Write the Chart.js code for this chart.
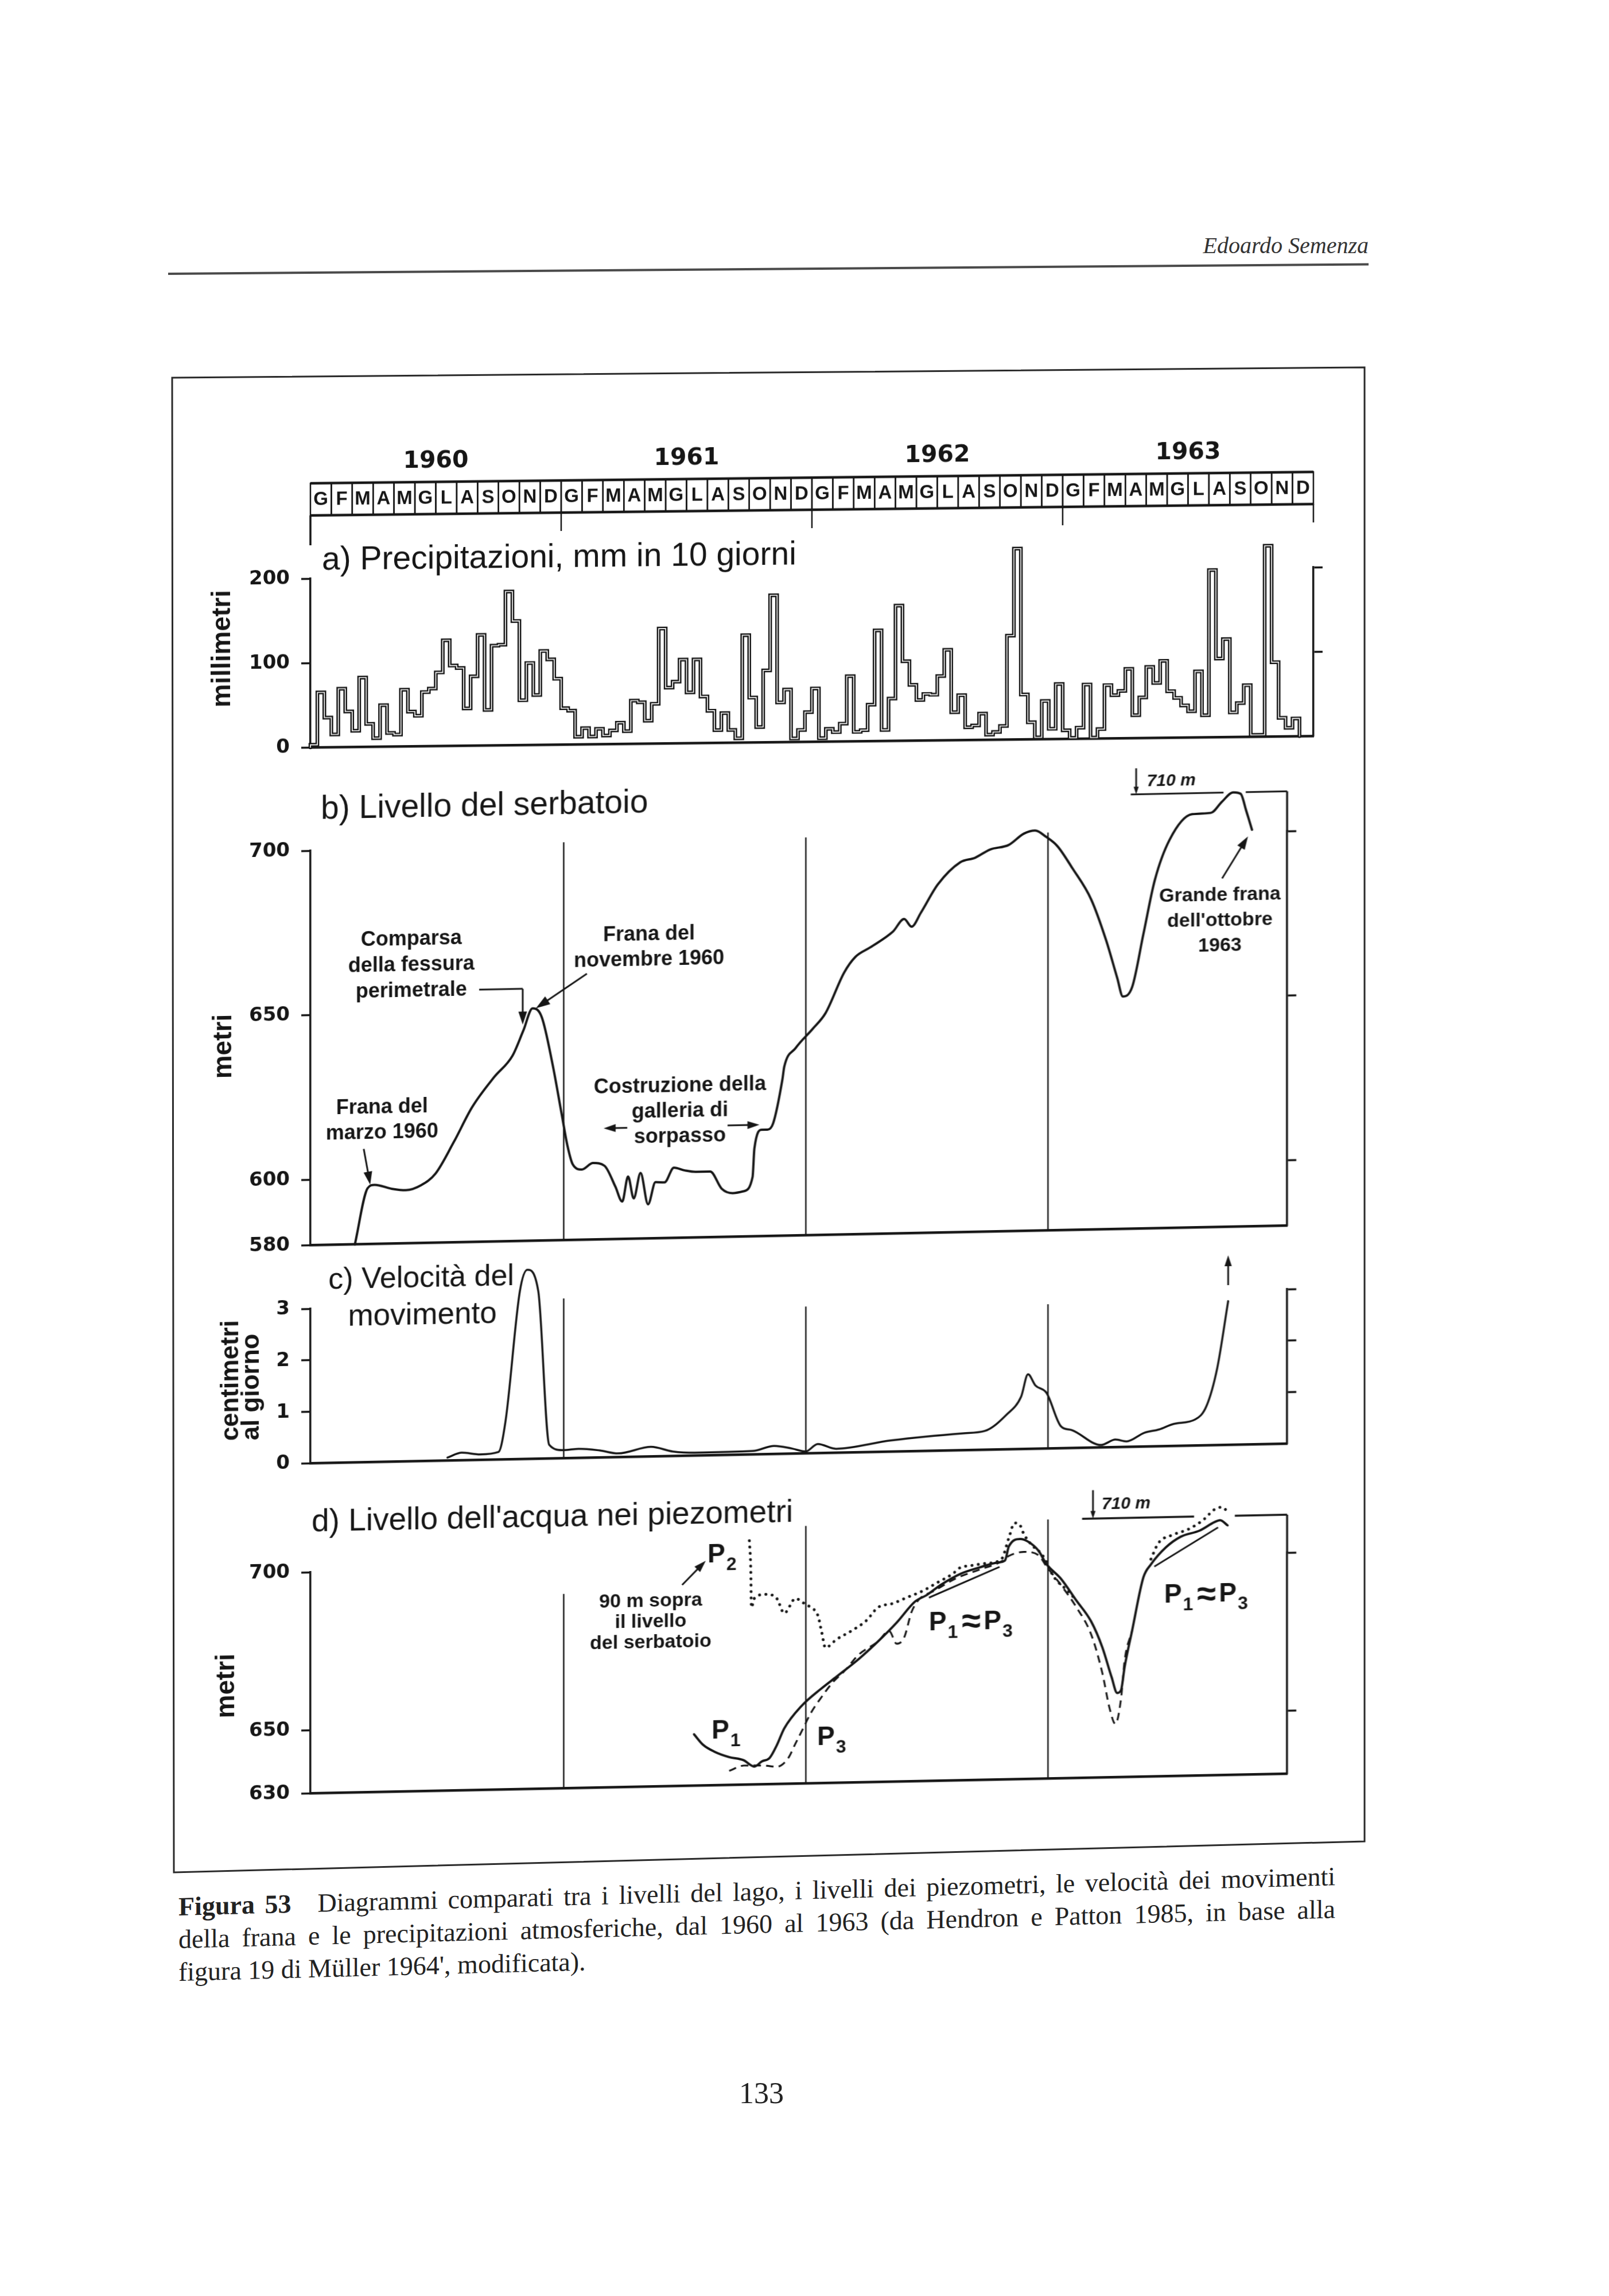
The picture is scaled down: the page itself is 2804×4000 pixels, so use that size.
<!DOCTYPE html>
<html lang="it">
<head>
<meta charset="utf-8">
<title>Figura 53 - Vajont 1960-1963</title>
<script src="https://cdn.jsdelivr.net/npm/chart.js@4.4.1/dist/chart.umd.min.js"></script>
<style>
  html, body { margin: 0; padding: 0; background: #fff; }
  #page { position: relative; width: 2804px; height: 4000px; overflow: hidden; background: #fff; }
  .layer { position: absolute; left: 0; width: 2804px; transform-origin: 541px 0; }
  .layer canvas { display: block; }
  #runhead { position: absolute; right: 419px; top: 404px; font: italic 40px "Liberation Serif", serif; color: #333; }
  #rule { position: absolute; left: 293px; top: 475px; width: 2092px; height: 4px; background: #4a4a4a; transform: skewY(-0.45deg); transform-origin: 0 0; }
  #frame { position: absolute; left: 0; top: 0; }
  #caption { position: absolute; left: 311px; top: 3293px; width: 2016px; font: 46px/57px "Liberation Serif", serif; color: #222; transform: skewY(-1.5deg); transform-origin: 0 0; }
  #caption .cl { white-space: nowrap; }
  #caption .full { text-align: justify; text-align-last: justify; }
  #folio { position: absolute; left: 1277px; top: 3617px; width: 100px; text-align: center; font: 52px "Liberation Serif", serif; color: #222; }
</style>
</head>
<body>
<div id="page">
  <div id="runhead">Edoardo Semenza</div>
  <div id="rule"></div>
  <svg id="frame" width="2804" height="4000">
    <polygon points="300,658 2378,640 2378,3208 303,3262" fill="none" stroke="#2a2a2a" stroke-width="3"/>
  </svg>
  <div class="layer" style="top:740px;transform:skewY(-0.65deg)"><canvas id="rain" width="2804" height="620"></canvas></div>
  <div class="layer" style="top:1360px;transform:skewY(-1.15deg)"><canvas id="lake" width="2804" height="850"></canvas></div>
  <div class="layer" style="top:2170px;transform:skewY(-1.15deg)"><canvas id="speed" width="2804" height="420"></canvas></div>
  <div class="layer" style="top:2580px;transform:skewY(-1.15deg)"><canvas id="piezo" width="2804" height="600"></canvas></div>
  <div id="caption">
    <div class="cl full"><b>Figura 53</b>&ensp;&ensp;Diagrammi comparati tra i livelli del lago, i livelli dei piezometri, le velocità dei movimenti</div>
    <div class="cl full">della frana e le precipitazioni atmosferiche, dal 1960 al 1963 (da Hendron e Patton 1985, in base alla</div>
    <div class="cl">figura 19 di Müller 1964', modificata).</div>
  </div>
  <div id="folio">133</div>
</div>

<script>
// time axis: months counted from 1 January 1960
const MONTHS = ['G', 'F', 'M', 'A', 'M', 'G', 'L', 'A', 'S', 'O', 'N', 'D'];
const YEARS = ['1960', '1961', '1962', '1963'];
const YEAR_BREAKS = [12, 24, 36];

// a) rainfall, mm in 10 days, three values per month from Jan 1960
const RAIN_MM = [
  3, 65, 35, 15, 69, 42, 19, 82, 27, 10, 49, 16,
  14, 67, 41, 36, 64, 68, 87, 125, 95, 92, 44, 82,
  131, 42, 118, 119, 182, 147, 53, 97, 59, 111, 101, 78,
  43, 40, 9, 19, 9, 18, 10, 16, 25, 15, 51, 49,
  27, 47, 136, 66, 73, 99, 60, 99, 55, 38, 15, 35,
  15, 5, 127, 53, 18, 85, 174, 47, 62, 4, 14, 35,
  63, 4, 15, 11, 21, 77, 11, 13, 43, 131, 13, 50,
  160, 94, 66, 48, 55, 54, 76, 107, 33, 53, 15, 17,
  31, 6, 9, 16, 123, 226, 53, 20, 2, 45, 12, 65,
  10, 1, 13, 64, 1, 11, 63, 51, 56, 82, 27, 48,
  84, 65, 91, 55, 47, 38, 31, 78, 26, 198, 93, 116,
  29, 40, 61, 2, 2, 226, 88, 22, 10, 21
];
const RAIN_TICKS = [0, 100, 200];

// b) reservoir level, m a.s.l.
const LAKE_T = [1.65, 2.28, 2.62, 3.48, 4.19, 4.93, 5.64, 6.55, 7.46, 8.55,
  9.46, 10.0, 10.46, 10.91, 11.45, 11.91, 12.19, 12.45, 12.9, 13.45,
  14.02, 14.56, 14.9, 15.19, 15.47, 15.81, 16.18, 16.55, 17.0, 17.46,
  18.0, 18.55, 19.26, 19.83, 20.37, 20.91, 21.36, 21.45, 21.82, 22.1,
  22.38, 22.84, 22.93, 23.49, 24.33, 24.97, 25.9, 26.46, 27.2, 28.31,
  28.87, 29.24, 29.7, 30.54, 31.65, 32.39, 33.13, 34.06, 34.8, 35.36,
  35.91, 36.47, 37.21, 38.14, 38.88, 39.43, 39.71, 40.17, 40.73, 41.29,
  42.03, 43.14, 44.07, 44.62, 45.18, 45.55, 45.83, 46.11];
const LAKE_M = [580, 597, 598, 596.7, 596.2, 597.6, 601, 610.5, 621, 630,
  636.4, 644, 650.7, 648, 633.5, 618, 608.6, 603, 601.4, 603.3,
  602.4, 596, 591.4, 599, 592.3, 600, 590.4, 597.1, 597, 601.4,
  600.5, 600, 600, 594.7, 593.3, 593.8, 598.1, 606.7, 612.4, 612.4,
  614.3, 627.6, 631.4, 637.0, 642.7, 647.4, 659.7, 664.4, 667.2, 671.8,
  675.6, 673.2, 677.4, 685.9, 692.5, 693.8, 696.2, 697.5, 700.8, 701.7,
  699.7, 696.8, 690.0, 680.4, 667.9, 656.4, 650.7, 653.5, 669.6, 685.8,
  698.1, 705.7, 706.0, 709.3, 712.1, 711.6, 706.3, 700.6];
const LAKE_TICKS = [580, 600, 650, 700];
const LAKE_TICKS_R = [600, 650, 700];

// c) landslide velocity, cm per day
const SPEED_T = [6.24, 6.95, 7.86, 8.77, 9.12, 9.83, 10.2, 10.74, 11.28, 11.99,
  12.74, 13.79, 14.7, 16.32, 17.41, 18.49, 21.37, 22.42, 23.33, 23.99,
  24.59, 25.5, 28.21, 31.79, 32.88, 33.93, 34.67, 35.01, 35.38, 35.93,
  36.64, 37.18, 38.63, 39.34, 39.89, 40.77, 41.51, 42.22, 43.3, 43.85,
  44.39, 44.93];
const SPEED_CM = [0.06, 0.15, 0.11, 0.15, 0.75, 3.26, 3.67, 3.25, 0.27, 0.16,
  0.18, 0.14, 0.075, 0.19, 0.09, 0.06, 0.07, 0.16, 0.10, 0.04,
  0.18, 0.08, 0.22, 0.33, 0.37, 0.67, 1.02, 1.45, 1.23, 1.08,
  0.43, 0.35, 0.05, 0.15, 0.11, 0.27, 0.33, 0.43, 0.51, 0.76,
  1.5, 2.79];
const SPEED_TICKS = [0, 1, 2, 3];
const SPEED_TICKS_R = [1, 2, 3];

// d) piezometers, m a.s.l.
const P1_T = [18.46, 18.91, 19.46, 20.18, 20.91, 21.45, 21.82, 22.2, 22.56, 22.93,
  23.77, 24.79, 25.53, 26.64, 27.57, 28.5, 29.42, 29.98, 30.72, 31.65,
  32.58, 33.5, 33.87, 34.06, 34.62, 34.99, 35.54, 35.91, 36.65, 37.39,
  38.14, 38.69, 39.15, 39.43, 39.62, 39.8, 40.17, 40.73, 41.1, 41.84,
  42.58, 43.51, 44.25, 44.53, 44.9];
const P1_M = [646.2, 642.8, 640.6, 638.8, 637.7, 635.6, 637.2, 638.2, 642.2, 647.5,
  654.4, 660.0, 663.6, 669.1, 674.4, 680.3, 686.9, 688.8, 692.1, 695.3,
  697.2, 698.7, 699.3, 703.7, 706.0, 705.2, 702.1, 698.0, 693.1, 686.3,
  679.4, 671.2, 661.7, 656.6, 657.5, 664.9, 676.3, 693.1, 697.1, 702.4,
  705.7, 707.5, 710.1, 710.7, 709.0];
const P3_T = [20.2, 20.94, 22.0, 22.56, 23.12, 23.49, 23.86, 24.23, 24.79, 25.35,
  25.9, 26.64, 27.57, 28.13, 28.5, 28.87, 29.24, 29.61, 30.35, 31.46,
  32.58, 33.69, 34.06, 34.8, 35.54, 35.91, 36.65, 37.39, 38.14, 38.69,
  39.06, 39.34, 39.62, 39.8, 40.17];
const P3_M = [634.4, 636.0, 635.8, 635.4, 638.0, 642.7, 647.3, 652.0, 657.3, 661.9,
  665.2, 670.5, 674.4, 677.7, 673.6, 675.5, 683.6, 687.5, 690.1, 694.0,
  696.5, 699.0, 700.7, 701.9, 700.7, 697.3, 691.1, 684.2, 675.3, 663.1,
  651.6, 646.8, 654.8, 667.0, 676.3];
const P2A_T = [21.2, 21.27, 21.3, 21.45, 22.0, 22.56, 22.93, 23.49, 23.86, 24.23,
  24.6, 24.79, 24.97, 25.53, 26.27, 27.01, 27.57, 28.31, 29.05, 29.8,
  30.54, 31.28, 31.65, 32.2, 32.95, 33.69, 34.06, 34.34, 34.62, 34.8,
  35.17, 35.73, 36.28, 37.02, 37.39];
const P2A_M = [707.2, 698, 686, 688.9, 690.1, 688.7, 684.0, 688.6, 687.2, 685.7,
  683.0, 677.6, 672.8, 675.4, 678.0, 681.2, 685.2, 686.4, 688.3, 690.2,
  692.8, 695.4, 697.3, 697.9, 698.5, 699.7, 706.4, 711.1, 710.3, 707.6,
  704.2, 700.7, 693.9, 689.0, 686.3];
const P2B_T = [41.1, 41.47, 42.21, 42.95, 43.7, 44.25, 44.62, 44.9];
const P2B_M = [698.8, 703.8, 706.4, 708.0, 710.9, 714.1, 714.8, 713.4];
const PIEZO_TICKS = [630, 650, 700];
const PIEZO_TICKS_R = [650, 700];
const PIEZO_TOP = 712;   // where the "710 m" mark sits on this panel

// ---------- drawing helpers ----------
const INK = '#161616';
const SANS = '"Liberation Sans", Arial, Helvetica, sans-serif';
const NOTE_FONT = 'bold 36px ' + SANS;
const AXIS_FONT = 'bold 46px ' + SANS;
const TICK_FONT = { family: '"DejaVu Sans", sans-serif', size: 34, weight: 'bold' };
const titleFont = px => px + 'px ' + SANS;

Chart.defaults.font.family = SANS;
Chart.defaults.color = INK;

const X = (c, t) => c.scales.x.getPixelForValue(t);
const Y = (c, v) => c.scales.y.getPixelForValue(v);
const pts = (ts, vs) => ts.map((t, i) => ({ x: t, y: vs[i] }));

function txt(ctx, s, x, y, font, align) {
  ctx.save();
  ctx.font = font;
  ctx.fillStyle = INK;
  ctx.textAlign = align || 'center';
  ctx.textBaseline = 'middle';
  ctx.fillText(s, x, y);
  ctx.restore();
}

function block(ctx, rows, x, y, lh, font, align) {
  rows.forEach((s, i) => txt(ctx, s, x, y + i * lh, font, align));
}

function vtxt(ctx, rows, x, y, font, lh, align) {
  ctx.save();
  ctx.translate(x, y);
  ctx.rotate(-Math.PI / 2);
  ctx.font = font;
  ctx.fillStyle = INK;
  ctx.textAlign = align || 'center';
  ctx.textBaseline = 'middle';
  rows.forEach((s, i) => ctx.fillText(s, 0, i * (lh || 0)));
  ctx.restore();
}

function seg(ctx, x1, y1, x2, y2, w) {
  ctx.save();
  ctx.strokeStyle = INK;
  ctx.lineWidth = w || 2.5;
  ctx.beginPath();
  ctx.moveTo(x1, y1);
  ctx.lineTo(x2, y2);
  ctx.stroke();
  ctx.restore();
}

function arrow(ctx, x1, y1, x2, y2, head, w) {
  const a = Math.atan2(y2 - y1, x2 - x1);
  head = head || 22;
  ctx.save();
  ctx.strokeStyle = INK;
  ctx.fillStyle = INK;
  ctx.lineWidth = w || 3;
  ctx.beginPath();
  ctx.moveTo(x1, y1);
  ctx.lineTo(x2 - Math.cos(a) * head * 0.7, y2 - Math.sin(a) * head * 0.7);
  ctx.stroke();
  ctx.beginPath();
  ctx.moveTo(x2, y2);
  ctx.lineTo(x2 - head * Math.cos(a - 0.32), y2 - head * Math.sin(a - 0.32));
  ctx.lineTo(x2 - head * Math.cos(a + 0.32), y2 - head * Math.sin(a + 0.32));
  ctx.closePath();
  ctx.fill();
  ctx.restore();
}

// "P" with subscript digits; the approx sign is drawn a little larger
function pLabel(ctx, parts, x, y, size) {
  ctx.save();
  ctx.fillStyle = INK;
  ctx.textAlign = 'left';
  ctx.textBaseline = 'alphabetic';
  let cx = x;
  parts.forEach(p => {
    const sub = /\d/.test(p);
    const approx = p === '≈';
    const fs = sub ? Math.round(size * 0.7) : approx ? Math.round(size * 1.3) : size;
    ctx.font = 'bold ' + fs + 'px ' + SANS;
    ctx.fillText(p, cx + (approx ? 5 : 0), y + (sub ? size * 0.3 : approx ? size * 0.12 : 0));
    cx += ctx.measureText(p).width + (approx ? 10 : 2);
  });
  ctx.restore();
}

function axisX(min, max, h) {
  return {
    type: 'linear', min, max,
    afterFit: s => { s.height = h; },
    ticks: { display: false },
    grid: { display: false },
    border: { display: true, color: INK, width: 4.5 }
  };
}

function axisY(min, max, ticks, side, width) {
  return {
    position: side, min, max,
    afterBuildTicks: s => { s.ticks = ticks.map(v => ({ value: v })); },
    afterFit: s => { s.width = width; },
    ticks: { display: side === 'left', color: INK, padding: 20, font: TICK_FONT },
    grid: { drawOnChartArea: false, tickLength: 16, tickWidth: 3.5, tickColor: INK },
    border: { display: true, color: INK, width: 3.5 }
  };
}

function line(data, extra) {
  return Object.assign({
    data, borderColor: INK, borderWidth: 4, pointRadius: 0, fill: false, clip: false,
    cubicInterpolationMode: 'monotone', borderCapStyle: 'round', borderJoinStyle: 'round'
  }, extra);
}

function panel(id, cfg) {
  return new Chart(document.getElementById(id), {
    type: 'line',
    data: { datasets: cfg.datasets },
    options: {
      responsive: false,
      animation: false,
      devicePixelRatio: 1,
      events: [],
      layout: { padding: { top: cfg.padTop, left: 0, right: 0, bottom: 0 } },
      plugins: { legend: { display: false }, tooltip: { enabled: false }, title: { display: false } },
      scales: {
        x: axisX(cfg.xMin, cfg.xMax, cfg.xAxisH),
        y: axisY(cfg.yMin, cfg.yMax, cfg.ticks, 'left', 541),
        yR: axisY(cfg.yMin, cfg.yMax, cfg.ticksR, 'right', cfg.rightW)
      }
    },
    plugins: [cfg.extras]
  });
}

// ---------- a) rainfall + month strip ----------
const rainPts = [{ x: 0, y: 0 }]
  .concat(RAIN_MM.map((v, i) => ({ x: i / 3, y: v })))
  .concat([{ x: RAIN_MM.length / 3, y: RAIN_MM[RAIN_MM.length - 1] }, { x: RAIN_MM.length / 3, y: 0 }]);

panel('rain', {
  padTop: 268, xAxisH: 58, rightW: 515,
  xMin: 0, xMax: 48, yMin: 0, yMax: 200,
  ticks: RAIN_TICKS, ticksR: [100, 200],
  datasets: [
    line(rainPts, { stepped: true, borderColor: '#fff', borderWidth: 1.6, borderJoinStyle: 'miter', order: 0 }),
    line(rainPts, { stepped: true, borderWidth: 6.5, borderJoinStyle: 'miter', order: 1 })
  ],
  extras: {
    id: 'rainExtras',
    afterDraw(c) {
      const ctx = c.ctx, a = c.chartArea;
      const rowTop = a.top - 166, rowBot = a.top - 110;
      ctx.save();
      ctx.strokeStyle = INK;
      ctx.fillStyle = INK;
      ctx.lineWidth = 2.5;
      ctx.font = 'bold 33px "Liberation Sans Narrow", ' + SANS;
      ctx.textAlign = 'center';
      ctx.textBaseline = 'middle';
      YEARS.forEach((yr, yi) => {
        MONTHS.forEach((m, mi) => {
          const k = yi * 12 + mi;
          const x0 = X(c, k), x1 = X(c, k + 1);
          ctx.strokeRect(x0, rowTop, x1 - x0, rowBot - rowTop);
          ctx.fillText(m, (x0 + x1) / 2, (rowTop + rowBot) / 2 + 1);
        });
      });
      ctx.restore();
      YEARS.forEach((yr, yi) => txt(ctx, yr, X(c, yi * 12 + 6), a.top - 202, 'bold 41px "DejaVu Sans", sans-serif'));
      seg(ctx, X(c, 0), rowTop, X(c, 48), rowTop, 4.5);
      seg(ctx, X(c, 0), rowBot, X(c, 48), rowBot, 4.5);
      seg(ctx, a.left, rowBot, a.left, a.top - 58, 3.5);
      YEAR_BREAKS.concat([48]).forEach(t => seg(ctx, X(c, t), rowBot, X(c, t), rowBot + 32, 2.5));
      txt(ctx, 'a) Precipitazioni, mm in 10 giorni', a.left + 20, a.top - 31, titleFont(57), 'left');
      vtxt(ctx, ['millimetri'], a.left - 153, Y(c, 118), AXIS_FONT);
    }
  }
});

// ---------- b) reservoir level ----------
panel('lake', {
  padTop: 122, xAxisH: 34, rightW: 561,
  xMin: -0.55, xMax: 47.85, yMin: 580, yMax: 700,
  ticks: LAKE_TICKS, ticksR: LAKE_TICKS_R,
  datasets: [line(pts(LAKE_T, LAKE_M), { borderWidth: 4 })],
  extras: {
    id: 'lakeExtras',
    afterDraw(c) {
      const ctx = c.ctx, a = c.chartArea;
      const top = Math.max(...LAKE_M);
      YEAR_BREAKS.forEach(t => seg(ctx, X(c, t), Y(c, 580), X(c, t), Y(c, 701), 2.5));
      seg(ctx, a.right, Y(c, 700), a.right, Y(c, top), 3.5);
      seg(ctx, X(c, 40.1), Y(c, top), X(c, 44.7), Y(c, top), 3);
      seg(ctx, X(c, 45.8), Y(c, top), a.right, Y(c, top), 3);
      arrow(ctx, X(c, 40.37), Y(c, 720), X(c, 40.37), Y(c, top), 14, 3);
      txt(ctx, '710 m', X(c, 40.9), Y(c, 716), 'bold italic 30px ' + SANS, 'left');

      txt(ctx, 'b) Livello del serbatoio', a.left + 18, a.top - 71, titleFont(57), 'left');
      vtxt(ctx, ['metri'], a.left - 151, Y(c, 641), AXIS_FONT);

      block(ctx, ['Comparsa', 'della fessura', 'perimetrale'], X(c, 4.45), Y(c, 672.4), 45, NOTE_FONT);
      seg(ctx, X(c, 7.81), Y(c, 656.7), X(c, 9.97), Y(c, 656.7), 3);
      arrow(ctx, X(c, 9.97), Y(c, 656.7), X(c, 9.97), Y(c, 645.8), 24, 3);

      block(ctx, ['Frana del', 'novembre 1960'], X(c, 16.23), Y(c, 672.4), 44, NOTE_FONT);
      arrow(ctx, X(c, 13.15), Y(c, 660.9), X(c, 10.62), Y(c, 650.7), 26, 3);

      block(ctx, ['Frana del', 'marzo 1960'], X(c, 3.0), Y(c, 621.4), 44, NOTE_FONT);
      arrow(ctx, X(c, 2.09), Y(c, 609.0), X(c, 2.41), Y(c, 598.1), 24, 3);

      block(ctx, ['Costruzione della', 'galleria di', 'sorpasso'], X(c, 17.76), Y(c, 626.2), 44, NOTE_FONT);
      arrow(ctx, X(c, 15.15), Y(c, 613.8), X(c, 13.98), Y(c, 613.8), 22, 3);
      arrow(ctx, X(c, 20.12), Y(c, 613.9), X(c, 21.7), Y(c, 613.9), 22, 3);

      block(ctx, ['Grande frana', "dell'ottobre", '1963'], X(c, 44.52), Y(c, 680.8), 44, 'bold 34px ' + SANS);
      arrow(ctx, X(c, 44.63), Y(c, 686.0), X(c, 45.91), Y(c, 698.6), 24, 3);
    }
  }
});

// ---------- c) velocity ----------
const SPEED_LINE_TOPS = [3.1, 2.85, 2.8];
panel('speed', {
  padTop: 110, xAxisH: 32, rightW: 561,
  xMin: -0.55, xMax: 47.85, yMin: 0, yMax: 3,
  ticks: SPEED_TICKS, ticksR: SPEED_TICKS_R,
  datasets: [line(pts(SPEED_T, SPEED_CM), { borderWidth: 3.5 })],
  extras: {
    id: 'speedExtras',
    afterDraw(c) {
      const ctx = c.ctx, a = c.chartArea;
      YEAR_BREAKS.forEach((t, i) => seg(ctx, X(c, t), Y(c, 0), X(c, t), Y(c, SPEED_LINE_TOPS[i]), 2.5));
      const tEnd = SPEED_T[SPEED_T.length - 1];
      arrow(ctx, X(c, tEnd), Y(c, 3.1), X(c, tEnd), Y(c, 3.68), 20, 3);
      txt(ctx, 'c) Velocità del', a.left + 193, a.top - 48, titleFont(52));
      txt(ctx, 'movimento', a.left + 195, a.top + 16, titleFont(53));
      vtxt(ctx, ['centimetri', 'al giorno'], a.left - 138, Y(c, 0.47), 'bold 44px ' + SANS, 36, 'left');
    }
  }
});

// ---------- d) piezometers ----------
const PIEZO_LINE_TOPS = [691.5, 711.5, 712];
panel('piezo', {
  padTop: 159, xAxisH: 56, rightW: 561,
  xMin: -0.55, xMax: 47.85, yMin: 630, yMax: 700,
  ticks: PIEZO_TICKS, ticksR: PIEZO_TICKS_R,
  datasets: [
    line(pts(P1_T, P1_M), { borderWidth: 4 }),
    line(pts(P3_T, P3_M), { borderWidth: 3.2, borderDash: [13, 9], borderCapStyle: 'butt' }),
    line(pts(P2A_T, P2A_M), { borderWidth: 5, borderDash: [0.1, 11] }),
    line(pts(P2B_T, P2B_M), { borderWidth: 5, borderDash: [0.1, 11] })
  ],
  extras: {
    id: 'piezoExtras',
    afterDraw(c) {
      const ctx = c.ctx, a = c.chartArea;
      YEAR_BREAKS.forEach((t, i) => seg(ctx, X(c, t), Y(c, 630), X(c, t), Y(c, PIEZO_LINE_TOPS[i]), 2.5));
      seg(ctx, a.right, Y(c, 700), a.right, Y(c, PIEZO_TOP), 3.5);
      seg(ctx, X(c, 37.69), Y(c, PIEZO_TOP), X(c, 43.24), Y(c, PIEZO_TOP), 3.5);
      seg(ctx, X(c, 45.26), Y(c, PIEZO_TOP), a.right, Y(c, PIEZO_TOP), 3.5);
      arrow(ctx, X(c, 38.23), Y(c, 721), X(c, 38.23), Y(c, PIEZO_TOP), 14, 3);
      txt(ctx, '710 m', X(c, 38.66), Y(c, 716.4), 'bold italic 30px ' + SANS, 'left');

      txt(ctx, "d) Livello dell'acqua nei piezometri", a.left + 2, a.top - 86, titleFont(55), 'left');
      vtxt(ctx, ['metri'], a.left - 146, Y(c, 664.5), AXIS_FONT);

      pLabel(ctx, ['P', '2'], X(c, 19.13), Y(c, 703.5) + 16, 46);
      arrow(ctx, X(c, 17.87), Y(c, 693.6), X(c, 19.04), Y(c, 701.1), 22, 3);
      block(ctx, ['90 m sopra', 'il livello', 'del serbatoio'], X(c, 16.31), Y(c, 688.7), 36, 'bold 34px ' + SANS);

      pLabel(ctx, ['P', '1'], X(c, 19.33), Y(c, 647.6) + 16, 46);
      pLabel(ctx, ['P', '3'], X(c, 24.56), Y(c, 644.9) + 16, 46);
      pLabel(ctx, ['P', '1', '≈', 'P', '3'], X(c, 30.1), Y(c, 680.6) + 16, 46);
      seg(ctx, X(c, 30.1), Y(c, 688.0), X(c, 33.6), Y(c, 697.3), 3);
      pLabel(ctx, ['P', '1', '≈', 'P', '3'], X(c, 41.76), Y(c, 687.8) + 16, 46);
      seg(ctx, X(c, 41.27), Y(c, 696.4), X(c, 44.43), Y(c, 708.4), 3);
    }
  }
});
</script>
</body>
</html>
